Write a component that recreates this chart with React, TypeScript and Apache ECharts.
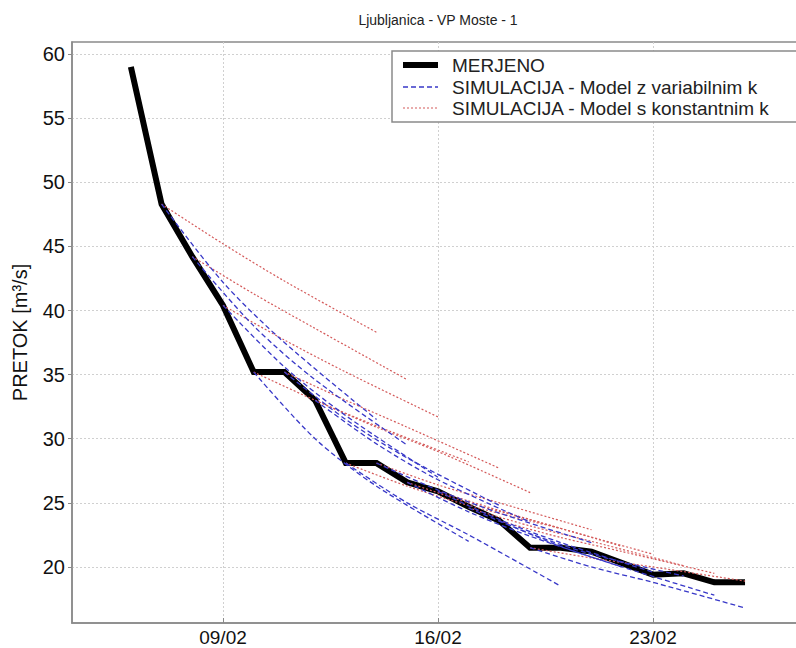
import { useEffect, useRef } from "react";
import * as echarts from "echarts";

// Measured discharge (day of February -> m3/s)
const measuredDays = [6, 7, 8, 9, 10, 11, 12, 13, 14, 15, 16, 17, 18, 19, 20, 21, 22, 23, 24, 25, 26];
const measuredFlow = [59.0, 48.3, 44.2, 40.4, 35.2, 35.2, 33.0, 28.1, 28.1, 26.6, 25.9, 24.7, 23.6, 21.5, 21.5, 21.2, 20.3, 19.4, 19.5, 18.8, 18.8];

// 7-day forecasts issued each day
const forecastStartDays = [7, 8, 9, 10, 11, 12, 13, 14, 15, 16, 17, 18, 19];
const forecastOffsets = [0, 2, 4, 7];

const variableK = [
  [48.3, 42.2, 37.5, 31.5],
  [44.2, 38.8, 34.6, 29.5],
  [40.4, 35.6, 31.8, 27.0],
  [35.2, 30.0, 26.3, 22.0],
  [35.2, 31.5, 28.5, 24.8],
  [33.0, 29.6, 26.8, 23.5],
  [28.1, 25.0, 22.5, 18.5],
  [28.1, 26.0, 24.2, 21.9],
  [26.6, 24.3, 22.4, 20.0],
  [25.9, 23.7, 21.9, 19.6],
  [24.6, 22.6, 21.0, 19.3],
  [23.6, 21.6, 20.0, 17.8],
  [21.5, 20.0, 18.8, 16.8],
];

const constantK = [
  [48.3, 45.2, 42.3, 38.3],
  [44.2, 41.3, 38.6, 34.6],
  [40.4, 37.7, 35.2, 31.7],
  [35.2, 33.0, 31.0, 28.2],
  [35.2, 33.0, 30.9, 27.7],
  [33.0, 30.9, 29.0, 25.8],
  [28.1, 26.3, 24.8, 23.0],
  [28.1, 26.4, 25.0, 22.9],
  [26.6, 25.0, 23.7, 21.6],
  [25.9, 24.4, 23.0, 21.0],
  [24.6, 23.2, 22.0, 20.1],
  [23.6, 22.3, 21.2, 19.5],
  [21.5, 20.7, 20.0, 18.9],
];

const xTickDays = [9, 16, 23];
const yTicks = [20, 25, 30, 35, 40, 45, 50, 55, 60];

const NAME_MEAS = "MERJENO";
const NAME_VAR = "SIMULACIJA - Model z variabilnim k";
const NAME_CONST = "SIMULACIJA - Model s konstantnim k";

export default function App() {
  const ref = useRef<HTMLDivElement>(null);

  useEffect(() => {
    const chart = echarts.init(ref.current!, null, { renderer: "svg" });
    const font = "'Liberation Sans', Arial, sans-serif";
    const blue = "#3838c8";
    const red = "#d45a5a";

    const series: any[] = [];
    series.push({
      type: "line",
      name: NAME_MEAS,
      data: measuredDays.map((d, i) => [d, measuredFlow[i]]),
      symbol: "none",
      lineStyle: { color: "#000", width: 6, join: "miter" },
      z: 2,
    });
    forecastStartDays.forEach((d0, k) => {
      series.push({
        type: "line",
        name: NAME_CONST,
        data: forecastOffsets.map((o, j) => [d0 + o, constantK[k][j]]),
        symbol: "none",
        smooth: 0.3,
        lineStyle: { color: red, width: 1.2, type: [2, 2] },
        z: 3,
      });
    });
    forecastStartDays.forEach((d0, k) => {
      series.push({
        type: "line",
        name: NAME_VAR,
        data: forecastOffsets.map((o, j) => [d0 + o, variableK[k][j]]),
        symbol: "none",
        smooth: 0.3,
        lineStyle: { color: blue, width: 1.3, type: [5, 3] },
        z: 4,
      });
    });

    const lx = 392, ly = 51;
    chart.setOption({
      animation: false,
      backgroundColor: "#fff",
      title: {
        text: "Ljubljanica - VP Moste - 1",
        left: 433,
        top: 8,
        textAlign: "center",
        textStyle: { fontFamily: font, fontSize: 14, fontWeight: "normal", color: "#222" },
      },
      grid: {
        left: 72,
        top: 42,
        width: 732,
        height: 581,
        containLabel: false,
        outerBoundsMode: "none",
        show: true,
        borderColor: "#8a8a8a",
        borderWidth: 1.5,
        backgroundColor: "#fff",
      },
      xAxis: {
        type: "value",
        min: 4.083,
        max: 27.92,
        axisLine: { show: true, lineStyle: { color: "#8a8a8a", width: 1.5 } },
        axisTick: { show: true, inside: true, length: 5, customValues: xTickDays, lineStyle: { color: "#8a8a8a" } },
        axisLabel: {
          customValues: xTickDays,
          formatter: (v: number) => (v < 10 ? "0" : "") + Math.round(v) + "/02",
          fontFamily: font,
          fontSize: 19,
          lineHeight: 18,
          color: "#111",
          margin: 5,
        },
        splitLine: { show: true, lineStyle: { color: "#d0d0d0", type: [2, 2], width: 1 } },
      },
      yAxis: {
        type: "value",
        min: 15.63,
        max: 60.94,
        name: "PRETOK [m³/s]",
        nameLocation: "middle",
        nameRotate: 90,
        nameGap: 42,
        nameTextStyle: { fontFamily: font, fontSize: 20, color: "#111" },
        axisLine: { show: true, lineStyle: { color: "#8a8a8a", width: 1.5 } },
        axisTick: { show: true, inside: false, length: 4, customValues: yTicks, lineStyle: { color: "#8a8a8a" } },
        axisLabel: {
          customValues: yTicks,
          fontFamily: font,
          fontSize: 20,
          color: "#111",
          margin: 7,
        },
        splitLine: { show: true, lineStyle: { color: "#d0d0d0", type: [2, 2], width: 1 } },
      },
      series,
      graphic: [
        {
          type: "rect",
          shape: { x: lx, y: ly, width: 430, height: 71 },
          style: { fill: "#fff", stroke: "#8a8a8a", lineWidth: 1.5 },
          z: 100,
        },
        {
          type: "line",
          shape: { x1: lx + 11, y1: ly + 14, x2: lx + 46, y2: ly + 14 },
          style: { stroke: "#000", lineWidth: 6 },
          z: 101,
        },
        {
          type: "line",
          shape: { x1: lx + 11, y1: ly + 36, x2: lx + 46, y2: ly + 36 },
          style: { stroke: blue, lineWidth: 1.3, lineDash: [5, 3] },
          z: 101,
        },
        {
          type: "line",
          shape: { x1: lx + 11, y1: ly + 57, x2: lx + 46, y2: ly + 57 },
          style: { stroke: red, lineWidth: 1.2, lineDash: [2, 2] },
          z: 101,
        },
        {
          type: "text",
          x: lx + 60,
          y: ly + 14,
          style: { text: NAME_MEAS, fontFamily: font, fontSize: 19, fill: "#222", verticalAlign: "middle" },
          z: 101,
        },
        {
          type: "text",
          x: lx + 60,
          y: ly + 36,
          style: { text: NAME_VAR, fontFamily: font, fontSize: 19, fill: "#222", verticalAlign: "middle" },
          z: 101,
        },
        {
          type: "text",
          x: lx + 60,
          y: ly + 57,
          style: { text: NAME_CONST, fontFamily: font, fontSize: 19, fill: "#222", verticalAlign: "middle" },
          z: 101,
        },
      ],
    });

    return () => chart.dispose();
  }, []);

  return <div ref={ref} style={{ position: "fixed", left: 0, top: 0, width: 796, height: 648 }} />;
}
